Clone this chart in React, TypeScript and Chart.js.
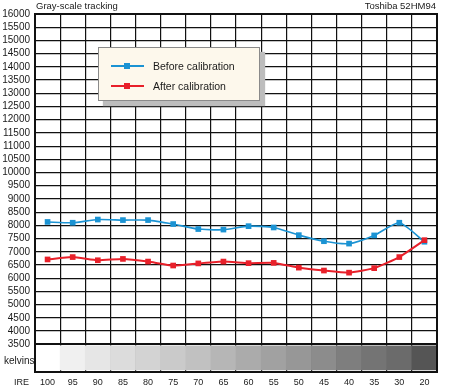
import React, { useEffect, useRef } from "react";
import { Chart, registerables } from "chart.js";

Chart.register(...registerables);

// ---- Data ----
const ireLabels = ["100", "95", "90", "85", "80", "75", "70", "65", "60", "55", "50", "45", "40", "35", "30", "20"];
const beforeCalibration = [8130, 8100, 8220, 8200, 8200, 8050, 7860, 7840, 7970, 7920, 7630, 7400, 7310, 7620, 8100, 7380];
const afterCalibration = [6710, 6800, 6680, 6730, 6630, 6480, 6560, 6630, 6570, 6580, 6400, 6290, 6210, 6380, 6800, 7440];
const bandShades = [
  "#ffffff", "#f0f0f0", "#e6e6e6", "#dcdcdc", "#d3d3d3", "#cacaca", "#c1c1c1", "#b6b6b6",
  "#ababab", "#a1a1a1", "#979797", "#8c8c8c", "#7e7e7e", "#747474", "#6b6b6b", "#555555",
];
const yTickValues = [
  16000, 15500, 15000, 14500, 14000, 13500, 13000, 12500, 12000, 11500, 11000, 10500, 10000,
  9500, 9000, 8500, 8000, 7500, 7000, 6500, 6000, 5500, 5000, 4500, 4000, 3500,
];

const Y_MAX = 16000;
const Y_MIN = 2450;
const GRID_FLOOR = 3500;
const BAND_LOW = 2530;
const BAND_HIGH = 3440;

const BLUE = "#1b93d3";
const RED = "#e8202a";
const FONT = "'Liberation Sans', Arial, sans-serif";

const framePlugin = {
  id: "frame",
  afterDraw(chart: any) {
    const { ctx, chartArea: a } = chart;
    ctx.save();
    ctx.strokeStyle = "#111";
    ctx.lineWidth = 2;
    ctx.strokeRect(a.left, a.top, a.right - a.left, a.bottom - a.top);
    ctx.restore();
  },
};

function LegendRow({ color, label }: { color: string; label: string }) {
  return (
    <div style={{ display: "flex", alignItems: "center", height: 20 }}>
      <div style={{ position: "relative", width: 33, height: 8, marginRight: 9 }}>
        <div style={{ position: "absolute", left: 0, top: 3, width: 33, height: 2, background: color }} />
        <div style={{ position: "absolute", left: 13, top: 1, width: 6, height: 6, background: color }} />
      </div>
      <span style={{ fontFamily: FONT, fontSize: 10.5, color: "#1a1a1a" }}>{label}</span>
    </div>
  );
}

export default function App() {
  const canvasRef = useRef<HTMLCanvasElement | null>(null);

  useEffect(() => {
    if (!canvasRef.current) return;
    const chart = new Chart(canvasRef.current, {
      type: "line",
      data: {
        labels: ireLabels,
        datasets: [
          {
            type: "line",
            label: "After calibration",
            data: afterCalibration,
            borderColor: RED,
            backgroundColor: RED,
            borderWidth: 2,
            pointStyle: "rect",
            pointRadius: 4,
            pointBorderWidth: 0,
            tension: 0.15,
          },
          {
            type: "line",
            label: "Before calibration",
            data: beforeCalibration,
            borderColor: BLUE,
            backgroundColor: BLUE,
            borderWidth: 1.6,
            pointStyle: "rect",
            pointRadius: 4,
            pointBorderWidth: 0,
            tension: 0.2,
          },
          {
            type: "bar",
            label: "band",
            data: ireLabels.map(() => [BAND_LOW, BAND_HIGH]) as any,
            backgroundColor: bandShades,
            borderWidth: 0,
            barPercentage: 1,
            categoryPercentage: 1,
          } as any,
        ],
      },
      options: {
        responsive: false,
        animation: false,
        layout: { padding: { top: 14, right: 13, left: 0, bottom: 0 } },
        plugins: {
          legend: { display: false },
          tooltip: { enabled: false },
          title: { display: false },
        },
        scales: {
          x: {
            type: "category",
            offset: true,
            grid: { offset: true, color: "#111", lineWidth: 1.2, drawTicks: false },
            border: { display: false },
            ticks: {
              padding: 5,
              color: "#1a1a1a",
              font: { family: FONT, size: 9 },
              maxRotation: 0,
              autoSkip: false,
            },
            afterFit(scale: any) {
              scale.height = 16;
            },
          },
          y: {
            min: Y_MIN,
            max: Y_MAX,
            afterBuildTicks(scale: any) {
              scale.ticks = yTickValues.map((v) => ({ value: v }));
            },
            grid: {
              drawTicks: false,
              color: (c: any) => (c.tick && c.tick.value < GRID_FLOOR ? "rgba(0,0,0,0)" : "#111"),
              lineWidth: (c: any) => (c.tick && c.tick.value === GRID_FLOOR ? 2 : 1.2),
            },
            border: { display: false },
            ticks: {
              padding: 5,
              color: "#1a1a1a",
              font: { family: FONT, size: 10 },
              autoSkip: false,
              callback: (v: any) => String(v),
            },
            afterFit(scale: any) {
              scale.width = 35;
            },
          },
        },
      },
      plugins: [framePlugin],
    });
    return () => chart.destroy();
  }, []);

  return (
    <div style={{ position: "absolute", left: 0, top: 0, width: 450, height: 388, background: "#fff", overflow: "hidden" }}>
      <canvas ref={canvasRef} width={450} height={388} style={{ position: "absolute", left: 0, top: 0 }} />
      <div style={{ position: "absolute", left: 36, top: 0, fontFamily: FONT, fontSize: 9.5, color: "#1a1a1a", lineHeight: "12px" }}>
        Gray-scale tracking
      </div>
      <div style={{ position: "absolute", right: 14, top: 0, fontFamily: FONT, fontSize: 9.5, color: "#1a1a1a", lineHeight: "12px" }}>
        Toshiba 52HM94
      </div>
      <div style={{ position: "absolute", left: 4, top: 355, fontFamily: FONT, fontSize: 10, color: "#1a1a1a", lineHeight: "12px" }}>
        kelvins
      </div>
      <div style={{ position: "absolute", right: 450 - 29, top: 376, fontFamily: FONT, fontSize: 9, color: "#1a1a1a", lineHeight: "12px" }}>
        IRE
      </div>
      <div
        style={{
          position: "absolute",
          left: 98,
          top: 47,
          width: 162,
          height: 54,
          background: "#fdf8ec",
          border: "1px solid #8a8a8a",
          boxShadow: "5px 5px 1px #bdbdbd",
          boxSizing: "border-box",
          paddingLeft: 12,
          paddingTop: 8,
        }}
      >
        <LegendRow color={BLUE} label="Before calibration" />
        <LegendRow color={RED} label="After calibration" />
      </div>
    </div>
  );
}
